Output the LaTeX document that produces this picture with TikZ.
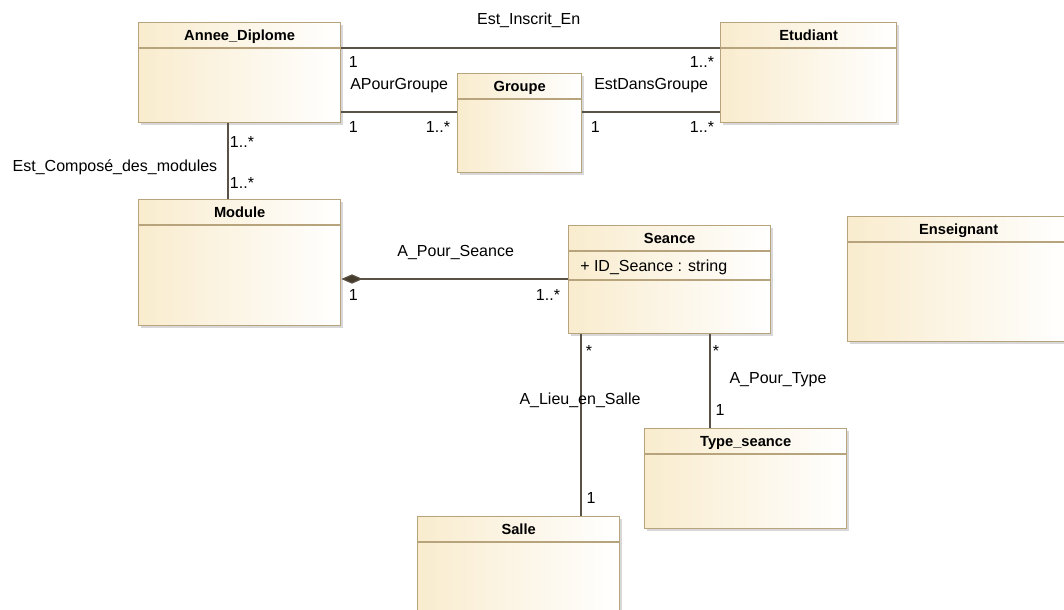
\documentclass[tikz,border=0pt]{standalone}
\usepackage{fontspec}
\setmainfont{Liberation Sans}
\usetikzlibrary{arrows.meta,calc,shadows}

\definecolor{classfill}{RGB}{249,236,206}
\definecolor{classedge}{RGB}{184,164,124}
\definecolor{assocline}{RGB}{90,82,70}
\definecolor{diamondfill}{RGB}{70,60,45}

\tikzset{
  classbox/.style={draw=classedge, line width=1pt, left color=classfill, right color=white,
    anchor=north west, inner sep=0pt,
    drop shadow={shadow xshift=1.5pt, shadow yshift=-1.5pt, fill=black!30}},
  classtitle/.style={font=\bfseries\fontsize{11}{13}\selectfont, inner sep=0pt, anchor=base},
  divider/.style={draw=classedge, line width=1pt},
  assoc/.style={draw=assocline, line width=0.9pt},
  lbl/.style={font=\fontsize{12}{14}\selectfont, inner sep=0pt},
  off/.style 2 args={xshift={(#1)*0.75pt}, yshift={-(#2)*0.75pt}},
}

% name, x, y, width, height, title
\newcommand{\umlclass}[6]{%
  \node[classbox, minimum width=#4*0.75pt, minimum height=#5*0.75pt] (#1) at (#2,#3) {};
  \draw[divider] ($(#1.north west)+(0,26)$) -- ($(#1.north east)+(0,26)$);
  \node[classtitle] (#1-title) at ($(#1.north)+(0,18.5)$) {#6};
}

\begin{document}
\begin{tikzpicture}[x=0.75pt, y=-0.75pt]
  \useasboundingbox (0,0) rectangle (1064,610);

  % classes
  \umlclass{ad}{138}{22}{202}{100}{Annee\_Diplome}
  \umlclass{etu}{720}{22}{176}{100}{Etudiant}
  \umlclass{grp}{457}{73}{124}{99}{Groupe}
  \umlclass{mod}{138}{199}{202}{126}{Module}
  \umlclass{sea}{568}{225}{202}{108}{Seance}
  \umlclass{ens}{847}{216}{222}{125}{Enseignant}
  \umlclass{typ}{644}{428}{202}{100}{Type\_seance}
  \umlclass{sal}{417}{516}{202}{100}{Salle}

  % attribute of Seance
  \node[lbl, anchor=west] (sea-id) at ($(sea.north west)+(12,42)$) {+ ID\_Seance : string};
  \draw[divider] ($(sea.north west)+(0,55)$) -- ($(sea.north east)+(0,55)$);

  % associations
  \draw[assoc] (ad.east |- 0,48) -- (etu.west |- 0,48)
    node[lbl, midway, off={-2}{-28}] {Est\_Inscrit\_En}
    node[lbl, pos=0, off={12}{14}] {1}
    node[lbl, pos=1, off={-18}{14}] {1..*};

  \draw[assoc] (ad.east |- 0,112) -- (grp.west |- 0,112)
    node[lbl, midway, off={0}{-26}] {APourGroupe}
    node[lbl, pos=0, off={12}{15}] {1}
    node[lbl, pos=1, off={-19}{15}] {1..*};

  \draw[assoc] (grp.east |- 0,112) -- (etu.west |- 0,112)
    node[lbl, midway, off={0}{-26}] {EstDansGroupe}
    node[lbl, pos=0, off={13}{15}] {1}
    node[lbl, pos=1, off={-18}{15}] {1..*};

  \draw[assoc] (ad.south -| 228,0) -- (mod.north -| 228,0)
    node[lbl, midway, off={-113}{6.5}] {Est\_Composé\_des\_modules}
    node[lbl, pos=0, off={14}{19}] {1..*}
    node[lbl, pos=1, off={14}{-16}] {1..*};

  \draw[assoc, {Diamond[length=16pt, width=7pt, fill=diamondfill]}-] (mod.east |- 0,279) -- (sea.west |- 0,279)
    node[lbl, midway, off={1}{-26}] {A\_Pour\_Seance}
    node[lbl, pos=0, off={12}{16}] {1}
    node[lbl, pos=1, off={-20}{16}] {1..*};

  \draw[assoc] (sea.south -| 581,0) -- (sal.north -| 581,0)
    node[lbl, midway, off={-1}{-24.5}] {A\_Lieu\_en\_Salle}
    node[lbl, pos=0, off={8}{17}] {*}
    node[lbl, pos=1, off={10}{-18}] {1};

  \draw[assoc] (sea.south -| 710,0) -- (typ.north -| 710,0)
    node[lbl, midway, off={68}{-1.5}] {A\_Pour\_Type}
    node[lbl, pos=0, off={6}{17}] {*}
    node[lbl, pos=1, off={10}{-18}] {1};
\end{tikzpicture}
\end{document}
